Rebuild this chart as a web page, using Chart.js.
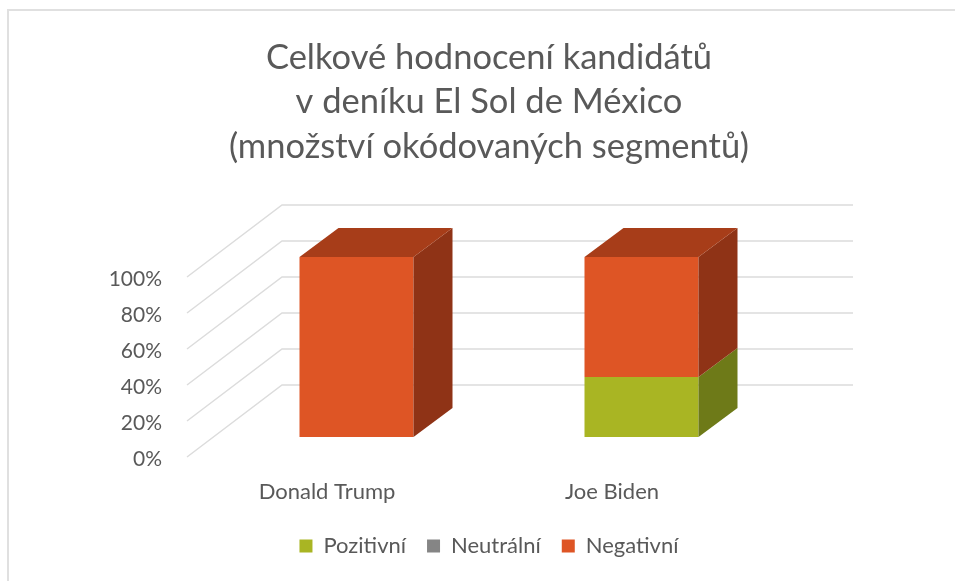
<!DOCTYPE html>
<html>
<head>
<meta charset="utf-8">
<style>
  html, body { margin: 0; padding: 0; background: #fff; overflow: hidden; }
  #wrap { width: 955px; height: 581px; position: relative; }
  #frame { position: absolute; left: 7px; top: 9px; width: 948px; height: 572px; border: 2px solid #e0e0e0; border-right: none; border-bottom: none; box-sizing: border-box; }
  canvas { position: absolute; left: 0; top: 0; }
</style>
<script src="https://cdn.jsdelivr.net/npm/chart.js@4"></script>
</head>
<body>
<div id="wrap">
  <div id="frame"></div>
  <canvas id="hodnoceni" width="955" height="581"></canvas>
</div>
<script>
const titleLines = [
  "Celkové hodnocení kandidátů",
  "v deníku El Sol de México",
  "(množství okódovaných segmentů)",
];
const candidates = ["Donald Trump", "Joe Biden"];
const pozitivni = [0, 33.3];
const neutralni = [0, 0];
const negativni = [100, 66.7];
const yTicks = [0, 20, 40, 60, 80, 100];

const textColor = "#595959";
const gridColor = "#dcdcdc";

// 3D look: excel style box depth and the wall behind the bars
const depthX = 39;
const depthY = 29;
const wallX = 95;
const wallY = 72;
const wallEnd = 853;
const axisDrop = 20;
const yLabelDrop = 22.5;
const labelShift = 29.5;

function face(ctx, pts, color) {
  ctx.fillStyle = color;
  ctx.beginPath();
  pts.forEach((p, i) => (i ? ctx.lineTo(p[0], p[1]) : ctx.moveTo(p[0], p[1])));
  ctx.closePath();
  ctx.fill();
}

const box3d = {
  id: "box3d",
  beforeDatasetsDraw(chart) {
    const ctx = chart.ctx;
    const y = chart.scales.y;
    const x0 = 187;
    ctx.save();
    ctx.strokeStyle = gridColor;
    ctx.lineWidth = 1.5;
    yTicks.forEach((v) => {
      const py = y.getPixelForValue(v) + axisDrop;
      ctx.beginPath();
      ctx.moveTo(x0, py);
      ctx.lineTo(x0 + wallX, py - wallY);
      ctx.lineTo(wallEnd, py - wallY);
      ctx.stroke();
    });
    ctx.restore();
  },
  afterDatasetsDraw(chart) {
    const ctx = chart.ctx;
    candidates.forEach((_, i) => {
      let topBar = null;
      let topSet = null;
      chart.data.datasets.forEach((ds, d) => {
        if (!ds.data[i]) return;
        const bar = chart.getDatasetMeta(d).data[i];
        const r = bar.x + bar.width / 2;
        face(ctx, [[r, bar.base], [r + depthX, bar.base - depthY], [r + depthX, bar.y - depthY], [r, bar.y]], ds.sideColor);
        topBar = bar;
        topSet = ds;
      });
      if (topBar) {
        const l = topBar.x - topBar.width / 2;
        const r = topBar.x + topBar.width / 2;
        const t = topBar.y;
        face(ctx, [[l, t], [r, t], [r + depthX, t - depthY], [l + depthX, t - depthY]], topSet.topColor);
      }
    });
  },
};

new Chart(document.getElementById("hodnoceni"), {
  type: "bar",
  plugins: [box3d],
  data: {
    labels: candidates,
    datasets: [
      { label: "Pozitivní", data: pozitivni, backgroundColor: "#a9b523", sideColor: "#6e7a18", topColor: "#8a9420" },
      { label: "Neutrální", data: neutralni, backgroundColor: "#858585", sideColor: "#5a5a5a", topColor: "#6e6e6e" },
      { label: "Negativní", data: negativni, backgroundColor: "#de5525", sideColor: "#8f3316", topColor: "#a73d19" },
    ],
  },
  options: {
    responsive: false,
    animation: false,
    layout: { padding: { left: 23, top: 36, bottom: 14 } },
    datasets: { bar: { barPercentage: 0.4, categoryPercentage: 1 } },
    plugins: {
      tooltip: { enabled: false },
      title: {
        display: true,
        text: titleLines,
        color: textColor,
        font: { family: "Lato", size: 34.5, weight: "normal", lineHeight: 1.28 },
        padding: { top: 0, bottom: 88.5 },
      },
      legend: {
        position: "bottom",
        labels: {
          color: textColor,
          font: { family: "Lato", size: 22 },
          boxWidth: 13,
          boxHeight: 13,
          padding: 21,
        },
      },
    },
    scales: {
      x: {
        stacked: true,
        grid: { display: false },
        border: { display: false },
        ticks: { color: textColor, font: { family: "Lato", size: 22 }, padding: 34, labelOffset: -labelShift, maxRotation: 0 },
        afterFit(scale) { scale.height = 77; },
      },
      y: {
        stacked: true,
        min: 0,
        max: 100,
        grid: { display: false },
        border: { display: false },
        afterBuildTicks(scale) { scale.ticks = yTicks.map((v) => ({ value: v })); },
        ticks: { color: textColor, font: { family: "Lato", size: 21 }, padding: 44, labelOffset: yLabelDrop, callback: (v) => v + "%" },
        afterFit(scale) { scale.width = 191; },
      },
      yRight: {
        position: "right",
        display: true,
        grid: { display: false },
        border: { display: false },
        ticks: { display: false },
        afterFit(scale) { scale.width = 171; },
      },
    },
  },
});
</script>
</body>
</html>
